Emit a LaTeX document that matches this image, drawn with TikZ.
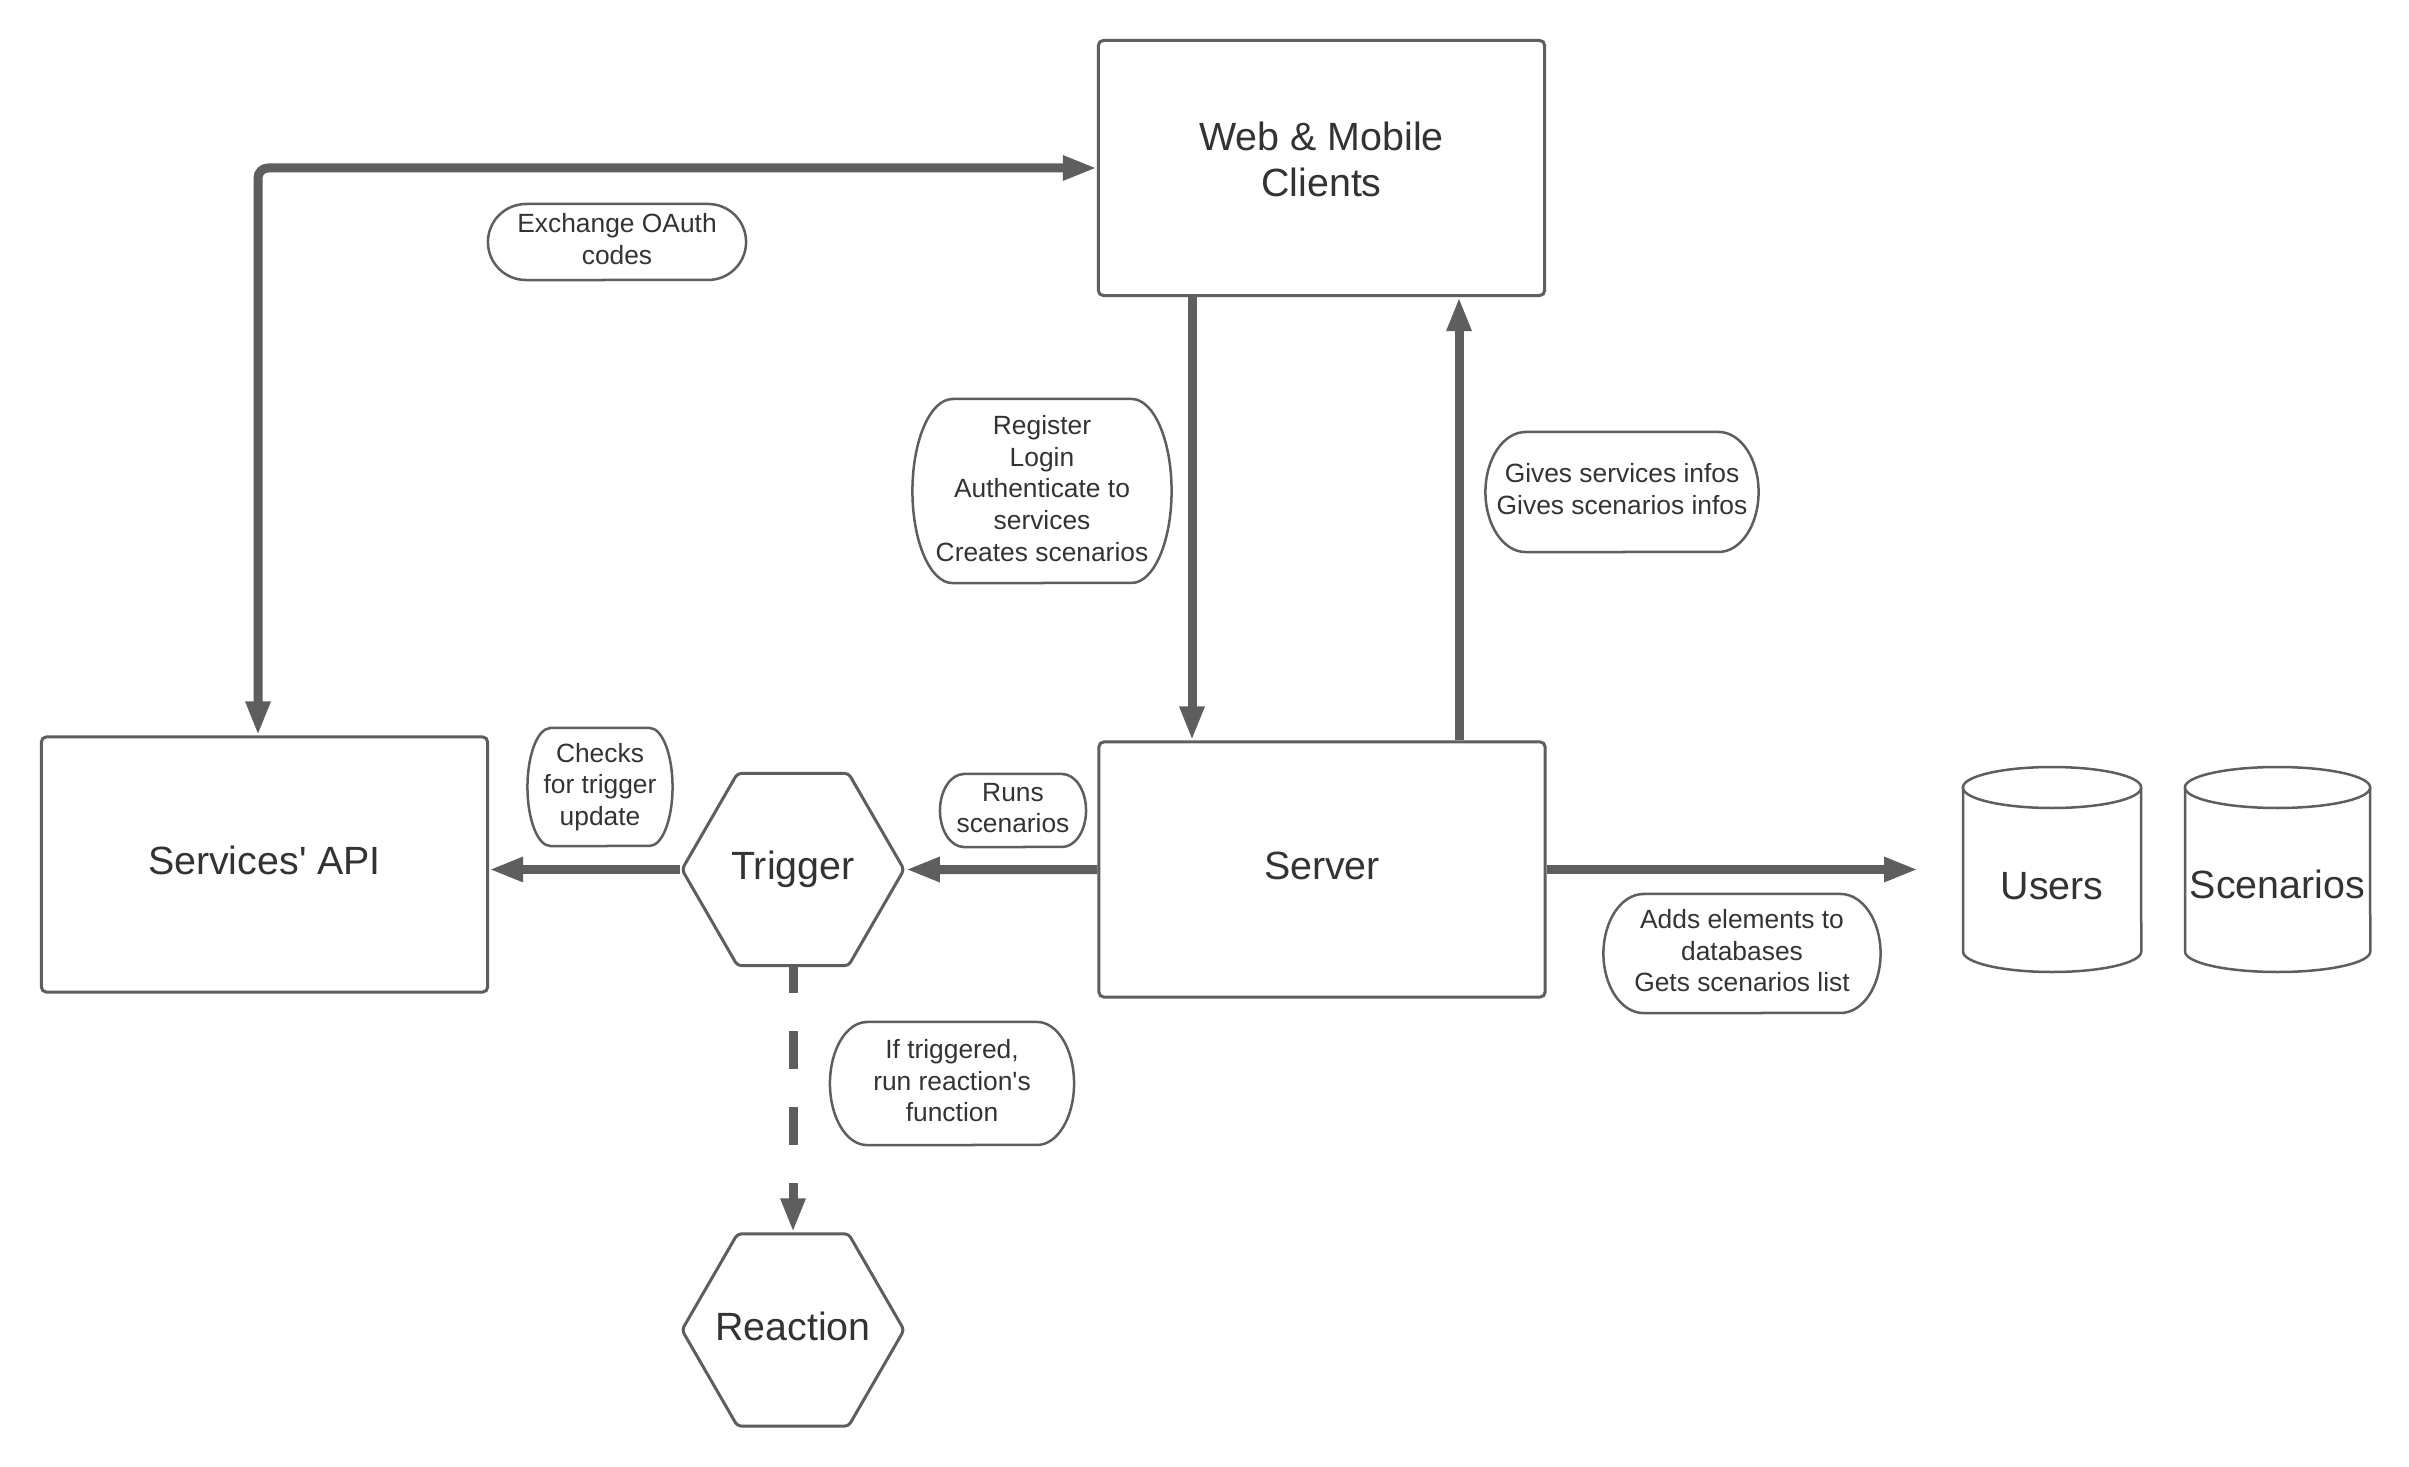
\documentclass[tikz,border=0pt]{standalone}
\usepackage{fontspec}
\setmainfont{Liberation Sans}
\usetikzlibrary{arrows.meta,shapes.geometric}
\definecolor{edge}{HTML}{5E5E5E}
\definecolor{ink}{HTML}{333333}
\tikzset{
  bigfont/.style={font=\fontsize{11.2pt}{13.2pt}\selectfont},
  oneline/.style={text height=0.28cm, text depth=0.08cm},
  block/.style={draw=edge, line width=0.03cm, rounded corners=0.05cm,
    inner sep=0pt, text=ink, bigfont, align=center,
    minimum width=4.46cm, minimum height=2.55cm},
  hexa/.style={draw=edge, line width=0.03cm, regular polygon,
    regular polygon sides=6, minimum size=2.22cm, inner sep=0pt,
    rounded corners=0.04cm, text=ink, bigfont, oneline},
  dbtext/.style={text=ink, bigfont, inner sep=0pt},
  db/.style={draw=edge, line width=0.025cm},
  note/.style={inner sep=0pt, outer sep=0pt, text=ink, align=center,
    text depth=0.055cm, font=\fontsize{7.5pt}{9pt}\selectfont},
  noteline/.style={draw=edge, line width=0.025cm},
  flow/.style={draw=edge, line width=0.09cm,
    -{Triangle[length=0.34cm,width=0.23cm]}},
}
% pill-shaped outline around a note node: #1 name, #2 corner x radius, #3 corner y radius (px)
\newcommand\pillborder[3]{%
  \draw[noteline] ([xshift=#2*0.01cm]#1.north west) -- ([xshift=-#2*0.01cm]#1.north east)
    arc[start angle=90, end angle=-90, x radius=#2*0.01cm, y radius=#3*0.01cm]
    -- ([xshift=#2*0.01cm]#1.south west)
    arc[start angle=270, end angle=90, x radius=#2*0.01cm, y radius=#3*0.01cm] -- cycle;}
% database cylinder: #1 centre x, #2 width, #3 top, #4 bottom, #5 cap radius (px)
\newcommand\dbcyl[5]{%
  \draw[db] (#1,#3+#5) ellipse [x radius=#2*0.005cm, y radius=#5*0.01cm];
  \draw[db] (#1-#2/2,#3+#5) -- (#1-#2/2,#4-#5)
    arc[start angle=180, end angle=360, x radius=#2*0.005cm, y radius=#5*0.01cm]
    -- (#1+#2/2,#3+#5);}
\begin{document}
\begin{tikzpicture}[x=0.01cm, y=-0.01cm]
  \fill[white] (0,0) rectangle (2409,1467);
  \useasboundingbox (0,0) rectangle (2409,1467);

  % main blocks
  \node[block, text depth=0.17cm] (web) at (1321.5,168) {Web \& Mobile\\Clients};
  \node[block, oneline] (server) at (1322,869.5) {Server};
  \node[block, oneline] (api) at (264.5,864.5) {Services\textquotesingle\ API};
  \node[hexa] (trigger) at (793,869.5) {\makebox[0pt]{Trigger}};
  \node[hexa] (reaction) at (793,1330) {\makebox[0pt]{Reaction}};

  % databases
  \dbcyl{2052}{178}{767}{972}{20.5}
  \dbcyl{2277.5}{185}{767}{972}{20.5}
  \node[dbtext] (users) at (2052,886) {Users};
  \node[dbtext] (scenarios) at (2277.5,884) {Scenarios};

  % notes
  \node[note, minimum width=2.58cm, minimum height=0.76cm] (oauth) at (617,242) {Exchange OAuth\\codes};
  \pillborder{oauth}{38}{38}
  \node[note, minimum width=2.59cm, minimum height=1.84cm] (reg) at (1042,491)
    {Register\\Login\\Authenticate to\\services\\Creates scenarios};
  \pillborder{reg}{40}{92}
  \node[note, minimum width=2.73cm, minimum height=1.20cm] (gives) at (1622,492)
    {Gives services infos\\Gives scenarios infos};
  \pillborder{gives}{40}{60}
  \node[note, minimum width=1.45cm, minimum height=1.18cm] (checks) at (600,787)
    {Checks\\for trigger\\update};
  \pillborder{checks}{23}{59}
  \node[note, minimum width=1.46cm, minimum height=0.73cm] (runs) at (1013,810.5)
    {Runs\\scenarios};
  \pillborder{runs}{24}{36.5}
  \node[note, minimum width=2.77cm, minimum height=1.19cm] (adds) at (1742,953.5)
    {Adds elements to\\databases\\Gets scenarios list};
  \pillborder{adds}{40}{59.5}
  \node[note, minimum width=2.44cm, minimum height=1.23cm] (iftrig) at (952,1083.5)
    {If triggered,\\run reaction\textquotesingle s\\function};
  \pillborder{iftrig}{37}{61.5}

  % connector guides
  \coordinate (down) at (1192,0);
  \coordinate (up) at (1459,0);
  \coordinate (apix) at (258,0);
  \coordinate (dbin) at (1918,869.5);

  % connectors
  \draw[flow, {Triangle[length=0.34cm,width=0.23cm]}-{Triangle[length=0.34cm,width=0.23cm]},
        rounded corners=0.1cm] (web.west) -| (api.north -| apix);
  \draw[flow] (web.south -| down) -- (server.north -| down);
  \draw[flow] (server.north -| up) -- (web.south -| up);
  \draw[flow] (server.west) -- (trigger.east);
  \draw[flow] (trigger.west) -- (trigger.west -| api.east);
  \draw[flow] (server.east) -- (dbin);
  \draw[flow, dash pattern=on 0.38cm off 0.38cm, dash phase=0.12cm]
    (trigger.south) -- (reaction.north);
\end{tikzpicture}
\end{document}
